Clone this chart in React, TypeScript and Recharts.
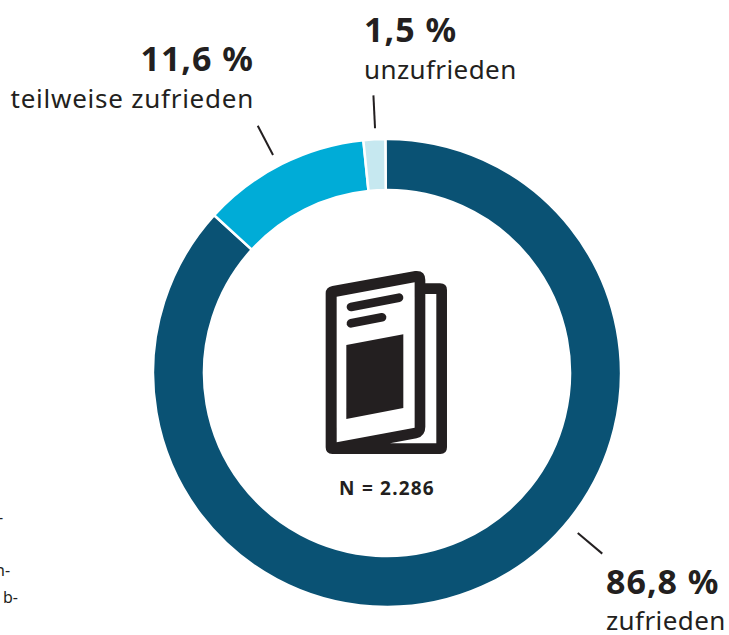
import React from "react";
import { PieChart, Pie, Cell } from "recharts";

const categories = ["zufrieden", "teilweise zufrieden", "unzufrieden"];
const percentLabels = ["86,8 %", "11,6 %", "1,5 %"];
const values = [86.8, 11.6, 1.5];
const colors = ["#0a5274", "#00acd7", "#c6e8f0"];
const sampleLabel = "N = 2.286";
const clippedFragments = ["-", "n-", "b-"];

const FONT = "'Noto Sans', sans-serif";
const INK = "#231f20";
const RAD = Math.PI / 180;

// leader-line angle (clockwise from 12 o'clock) and text placement per slice
const leaderAngles = [130, -27.6, -2.8];
const leaderRadii = [[249, 281], [246, 279], [245, 278]];
const textPlacement = [
  { x: 606, anchor: "start", y1: 594, y2: 630, spacing: 0.4 },
  { x: 254, anchor: "end", y1: 71, y2: 108, spacing: 0.75 },
  { x: 364, anchor: "start", y1: 42, y2: 79, spacing: 0.4 },
];

const renderLabel = (props: any) => {
  const { index, cx, cy } = props;
  const a = leaderAngles[index] * RAD;
  const [r1, r2] = leaderRadii[index];
  const t = textPlacement[index];
  return (
    <g key={index}>
      <line
        x1={cx + r1 * Math.sin(a)}
        y1={cy - r1 * Math.cos(a)}
        x2={cx + r2 * Math.sin(a)}
        y2={cy - r2 * Math.cos(a)}
        stroke={INK}
        strokeWidth={2}
      />
      <text x={t.x} y={t.y1} textAnchor={t.anchor} fontFamily={FONT} fontWeight={700} fontSize={34} letterSpacing={1} fill={INK}>
        {percentLabels[index]}
      </text>
      <text x={t.x} y={t.y2} textAnchor={t.anchor} fontFamily={FONT} fontSize={26} letterSpacing={t.spacing} fill={INK}>
        {categories[index]}
      </text>
    </g>
  );
};

const tableData = categories.map((name, i) => ({ name, value: values[i] }));

const BookIcon = () => (
  <g transform="translate(300 250) scale(0.3333)">
    <path
      d="M77,130 Q77,112 97,108 L345,63 Q376,60 376,90 L376,100 L420,100 Q441,100 441,120 L441,592 Q441,612 421,612 L97,612 Q77,612 77,592 Z"
      fill={INK}
    />
    <path d="M110,140 L344,97 L344,533 L110,577 Z" fill="#fff" />
    <path d="M376,132 L409,132 L409,580 L270,580 L350,565 Q376,558 376,530 Z" fill="#fff" />
    <line x1={153} y1={171} x2={297} y2={143} stroke={INK} strokeWidth={26} strokeLinecap="round" />
    <line x1={153} y1={220} x2={246} y2={202} stroke={INK} strokeWidth={26} strokeLinecap="round" />
    <path d="M139,285 L310,253 L310,474 L139,507 Z" fill={INK} />
  </g>
);

export default function App() {
  return (
    <div style={{ position: "absolute", left: 0, top: 0, width: 729, height: 635, overflow: "hidden", background: "#fff" }}>
      <PieChart width={729} height={635} margin={{ top: 0, right: 0, bottom: 0, left: 0 }}>
        <Pie
          data={tableData}
          dataKey="value"
          nameKey="name"
          cx={387}
          cy={373}
          outerRadius={234}
          innerRadius={183}
          startAngle={90.4}
          endAngle={-269.6}
          stroke="#ffffff"
          strokeWidth={2.5}
          label={renderLabel}
          labelLine={false}
          isAnimationActive={false}
        >
          {tableData.map((d, i) => (
            <Cell key={d.name} fill={colors[i]} />
          ))}
        </Pie>
        <BookIcon />
        <text x={387} y={495} textAnchor="middle" fontFamily={FONT} fontWeight={700} fontSize={19} letterSpacing={1.2} fill={INK}>
          {sampleLabel}
        </text>
        <text x={-2} y={523} fontFamily={FONT} fontSize={16} fill={INK}>{clippedFragments[0]}</text>
        <text x={-5} y={576} fontFamily={FONT} fontSize={16} fill={INK}>{clippedFragments[1]}</text>
        <text x={3} y={603} fontFamily={FONT} fontSize={16} fill={INK}>{clippedFragments[2]}</text>
      </PieChart>
    </div>
  );
}
